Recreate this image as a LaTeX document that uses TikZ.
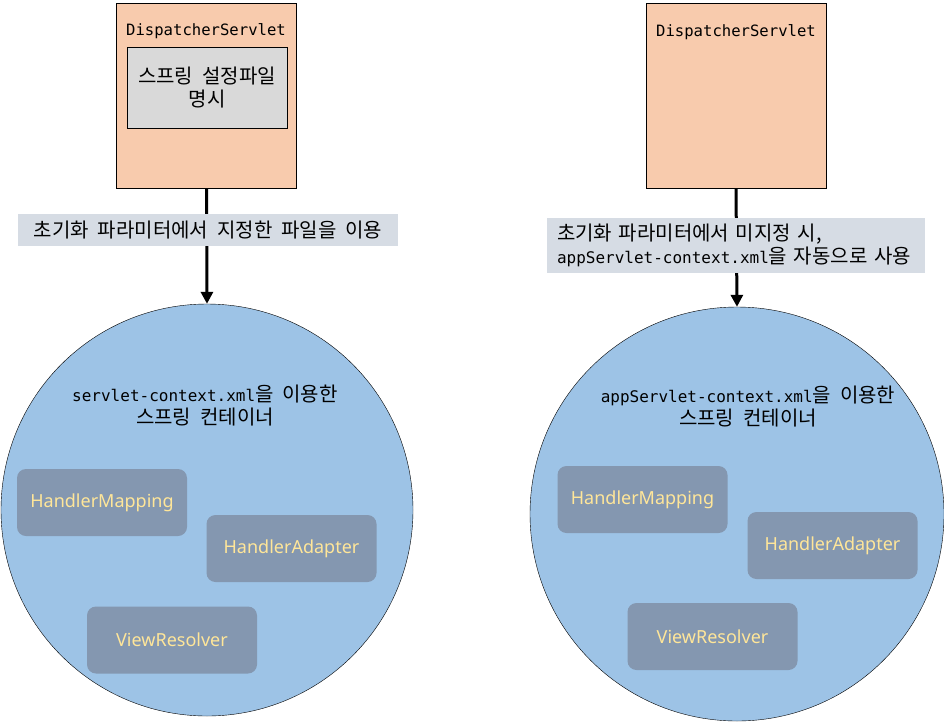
\documentclass[tikz,border=0pt]{standalone}
\usepackage{fontspec}
\usepackage{tikz}
\usetikzlibrary{arrows.meta,positioning,calc}
\usepackage{xcolor}

\newfontfamily\kr{Noto Sans CJK KR}[WordSpace=2.0]
\newfontfamily\mono{DejaVu Sans Mono}[Scale=0.8]
\newfontfamily\beanfont{Noto Sans}
\newcommand{\krtext}{\kr\fontsize{20}{23}\selectfont}

\definecolor{servletfill}{HTML}{F8CBAD}
\definecolor{cfgfill}{HTML}{D9D9D9}
\definecolor{notefill}{HTML}{D6DCE4}
\definecolor{ctxfill}{HTML}{9DC3E6}
\definecolor{beanfill}{HTML}{8497B0}
\definecolor{beantext}{HTML}{FFE699}

\tikzset{
  servletbox/.style={draw,fill=servletfill,minimum width=180pt,minimum height=185pt,inner sep=0pt},
  cfgbox/.style={draw,fill=cfgfill,minimum width=160pt,minimum height=81pt,align=center,font=\krtext},
  notebox/.style={fill=notefill,font=\krtext,inner sep=0pt},
  ctxcircle/.style={draw,circle,fill=ctxfill,inner sep=0pt},
  ctxtext/.style={align=center,font=\krtext},
  bean/.style={fill=beanfill,rounded corners=9pt,minimum width=170pt,minimum height=67pt,
    text=beantext,font=\beanfont\fontsize{18}{22}\selectfont},
  flow/.style={line width=3pt,-{Triangle[width=12pt,length=12pt]}}
}

\begin{document}
\begin{tikzpicture}[x=1pt,y=-1pt]
\useasboundingbox (0,0) rectangle (944,723);

% left side: init parameter given
\node[servletbox] (dsL) at (206.5,95.5) {};
\node[font=\mono\fontsize{19.5}{23}\selectfont] (dsLt) at (206,31) {DispatcherServlet};
\node[cfgbox] (cfgL) at (207,87.5) {스프링 설정파일\\명시};
\node[ctxcircle,minimum size=412pt] (ctxL) at (207,510) {};
\draw[flow] (dsL.south) -- (ctxL.north);
\node[notebox,minimum width=380pt,minimum height=32pt] (noteL) at (208,230)
  {초기화 파라미터에서 지정한 파일을 이용};
\node[ctxtext] (ctxLt) at (205,406) {{\mono servlet-context.xml}을 이용한\\스프링 컨테이너};
\node[bean] (hmL) at (102,502.5) {HandlerMapping};
\node[bean] (haL) at (291.5,548.5) {HandlerAdapter};
\node[bean] (vrL) at (172,640) {ViewResolver};

% right side: default file
\node[servletbox] (dsR) at (736,95.5) {};
\node[font=\mono\fontsize{19.5}{23}\selectfont] (dsRt) at (736,32) {DispatcherServlet};
\node[ctxcircle,minimum size=414pt] (ctxR) at (737,514) {};
\draw[flow] (dsR.south) -- (ctxR.north);
\node[notebox,minimum width=378pt,minimum height=55pt,align=left,text width=358pt] (noteR) at (736,245.5)
  {초기화 파라미터에서 미지정 시,\\{\mono appServlet-context.xml}을 자동으로 사용};
\node[ctxtext] (ctxRt) at (748,407) {{\mono appServlet-context.xml}을 이용한\\스프링 컨테이너};
\node[bean] (hmR) at (642.5,499.5) {HandlerMapping};
\node[bean] (haR) at (832.5,545.5) {HandlerAdapter};
\node[bean] (vrR) at (712.5,636.5) {ViewResolver};
\end{tikzpicture}
\end{document}
